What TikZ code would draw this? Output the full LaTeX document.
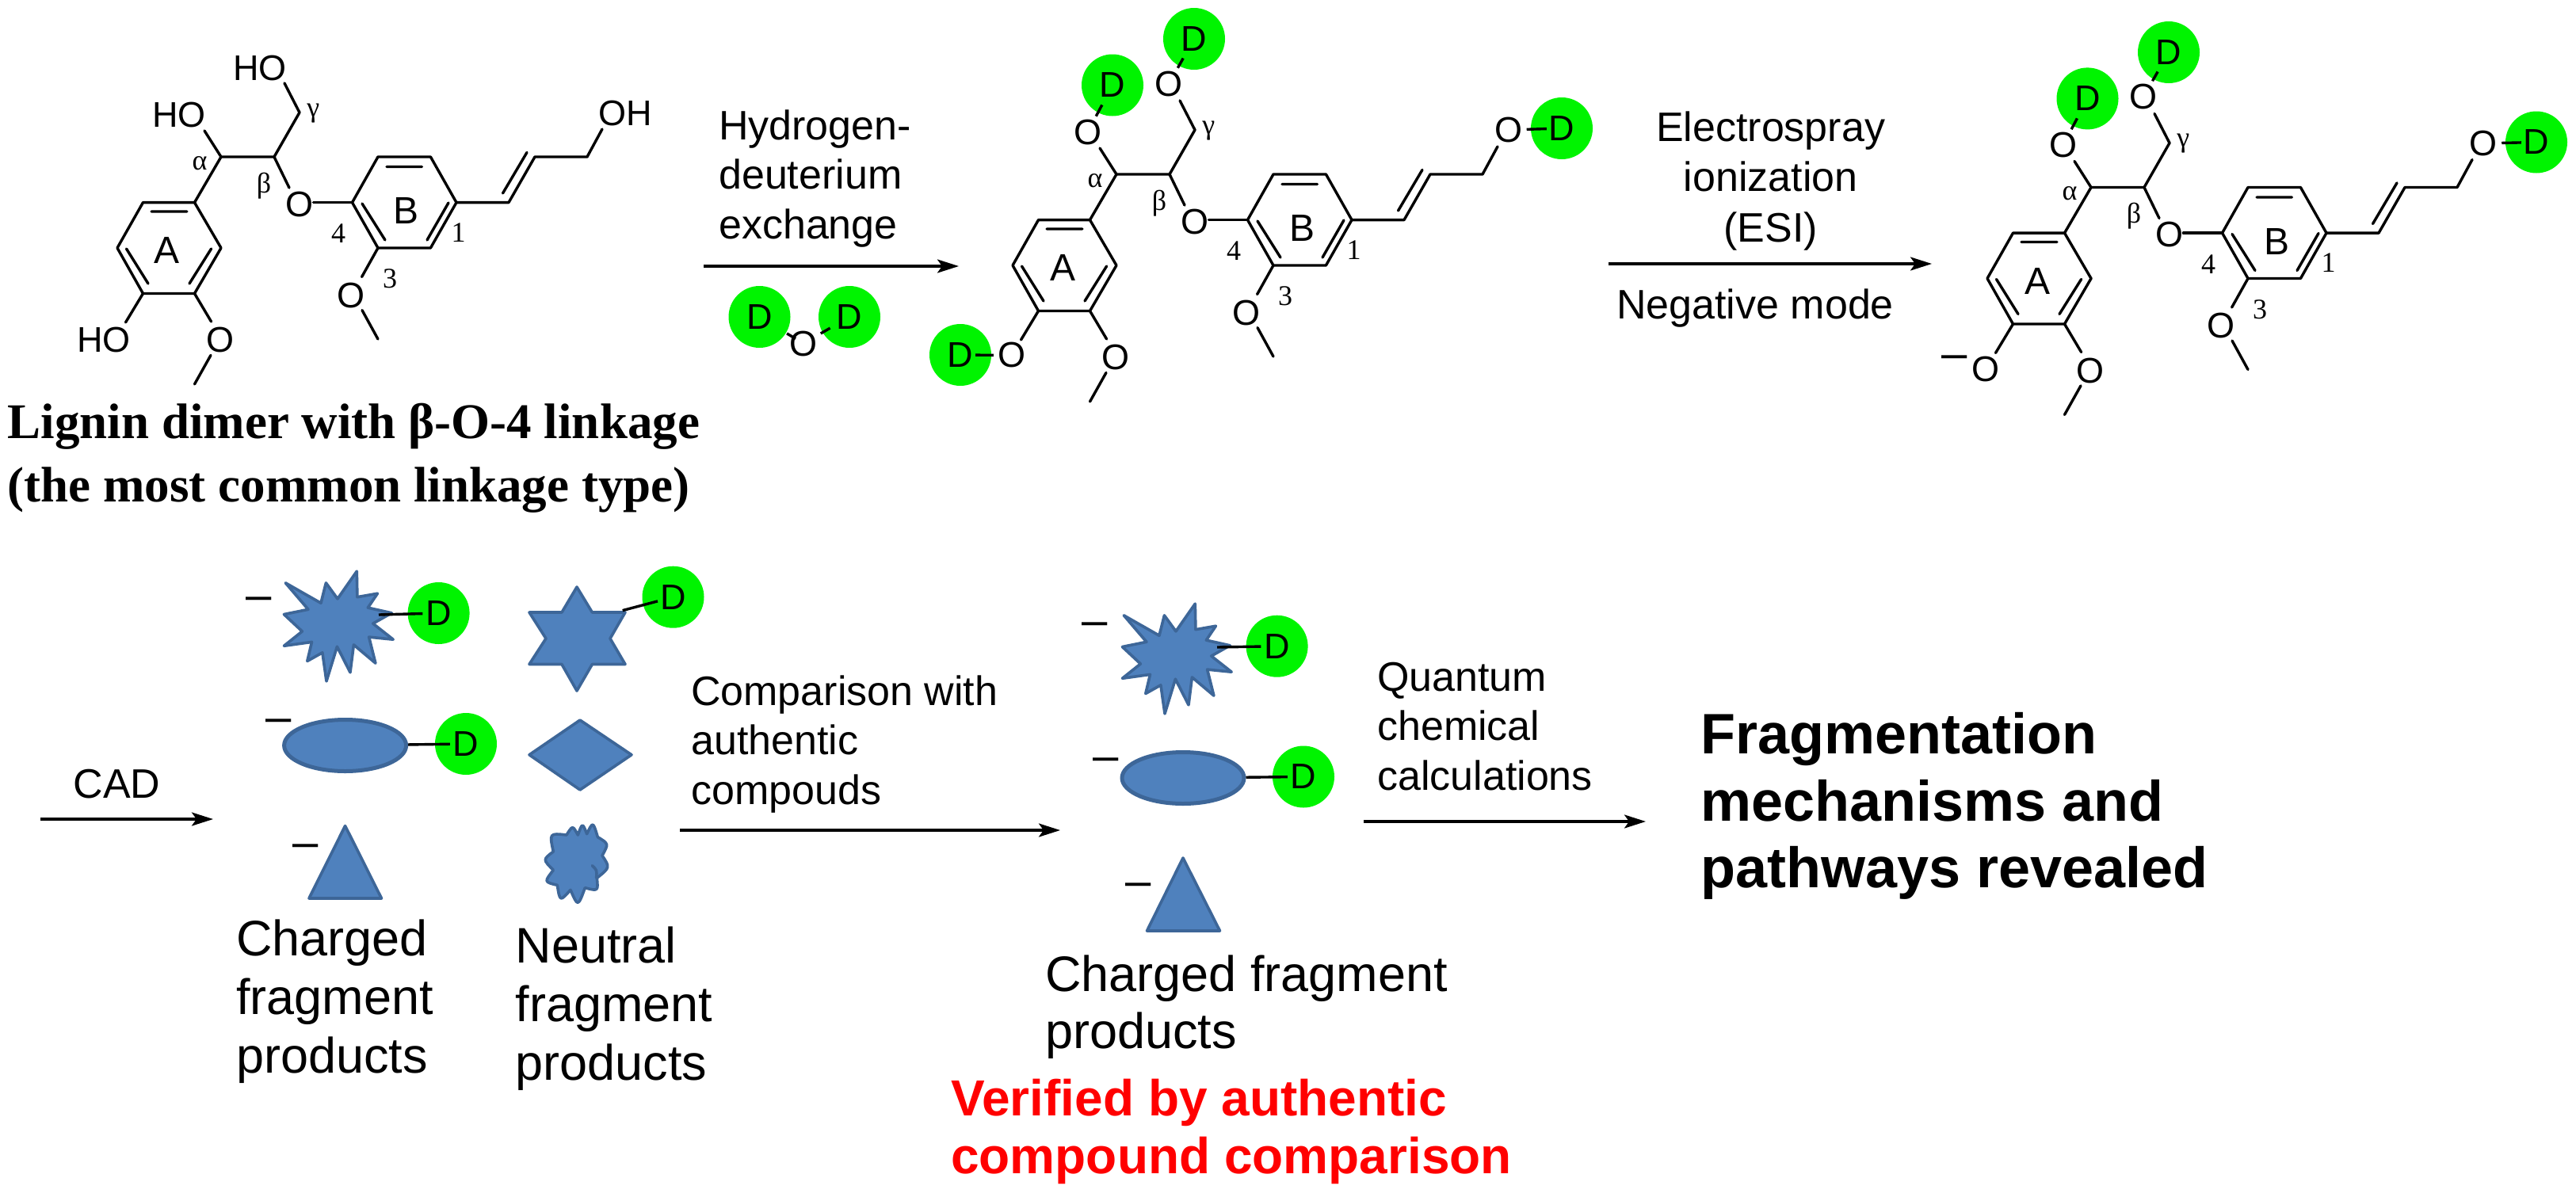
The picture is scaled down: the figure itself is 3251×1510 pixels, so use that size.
\documentclass[tikz,border=0pt]{standalone}
\usepackage{fontspec}
\setmainfont{Liberation Sans}
\newfontfamily\arialf{Liberation Sans}
\newfontfamily\timesf{Liberation Serif}
\usetikzlibrary{arrows.meta,shapes.geometric,calc}
\definecolor{dgreen}{HTML}{00F400}
\definecolor{fragfill}{HTML}{4F81BD}
\definecolor{fragline}{HTML}{3D6698}
\tikzset{
  x=1pt,y=-1pt,
  bond/.style={line width=3.4pt,line join=round,line cap=round},
  atom/.style={font=\arialf\fontsize{45}{45}\selectfont,inner sep=1.5pt},
  ringlbl/.style={font=\arialf\fontsize{48}{48}\selectfont,inner sep=0pt},
  posn/.style={font=\timesf\fontsize{36}{36}\selectfont,inner sep=0pt},
  deut/.style={circle,fill=dgreen,minimum size=78pt,inner sep=0pt,font=\arialf\fontsize{45}{45}\selectfont},
  arr/.style={line width=3.4pt,-{Stealth[length=27pt,width=17pt,inset=6pt]}},
  lbl/.style={font=\arialf\fontsize{52}{62.5}\selectfont,inner sep=0pt,anchor=base west,align=left},
  lblc/.style={font=\arialf\fontsize{52}{63.5}\selectfont,inner sep=0pt,anchor=base,align=center},
  big/.style={font=\arialf\fontsize{63}{73.6}\selectfont,inner sep=0pt,anchor=base west,align=left},
  res/.style={font=\arialf\bfseries\fontsize{72}{84.5}\selectfont,inner sep=0pt,anchor=base west,align=left},
  redt/.style={font=\arialf\bfseries\fontsize{64}{73}\selectfont,text=red,inner sep=0pt,anchor=base west,align=left},
  ttl/.style={font=\timesf\bfseries\fontsize{63}{80}\selectfont,inner sep=0pt,anchor=base west,align=left},
  neg/.style={font=\arialf\fontsize{58}{58}\selectfont,inner sep=0pt,anchor=base},
  frag/.style={fill=fragfill,draw=fragline,line width=3.6pt,line join=round},
  fragell/.style={ellipse,frag,line width=5pt,minimum width=154pt,minimum height=65pt,inner sep=0pt},
  tobond/.style={line width=3.4pt,shorten <=3pt,shorten >=-11pt},
  tobondh/.style={line width=3.4pt,shorten <=4pt,shorten >=-20pt},
  fragbond/.style={line width=3.4pt,shorten >=-19pt},
}
% skeleton of the lignin dimer: #1 prefix, #2/#3 offset
\newcommand{\ligninskel}[3]{%
\begin{scope}[shift={(#2,#3)}]
  \coordinate (#1Ca) at (279,198);
  \coordinate (#1Cb) at (346,198);
  \coordinate (#1Cg) at (378,142);
  \coordinate (#1gE) at (359,105);
  \coordinate (#1aE) at (258,165);
  \coordinate (#1bE) at (365,237);
  \coordinate (#1bF) at (395.4,255.6);
  % ring A
  \coordinate (#1A1) at (245.5,255.6);
  \coordinate (#1A2) at (180.5,255.6);
  \coordinate (#1A3) at (148,313);
  \coordinate (#1A4) at (180.5,370.5);
  \coordinate (#1A5) at (245.5,370.5);
  \coordinate (#1A6) at (279,313);
  \coordinate (#1Aa) at (191,267);\coordinate (#1Ab) at (236,267);
  \coordinate (#1Ac) at (159.5,314);\coordinate (#1Ad) at (187,358);
  \coordinate (#1Ae) at (266.6,314);\coordinate (#1Af) at (239,358);
  % ring B
  \coordinate (#1B1) at (444.5,255.6);
  \coordinate (#1B2) at (477,198);
  \coordinate (#1B3) at (543.4,198);
  \coordinate (#1B4) at (576,255.6);
  \coordinate (#1B5) at (543.4,313);
  \coordinate (#1B6) at (477,313);
  \coordinate (#1Ba) at (488,210.5);\coordinate (#1Bb) at (532.5,210.5);
  \coordinate (#1Bc) at (457,257);\coordinate (#1Bd) at (486,303);
  \coordinate (#1Be) at (566,256);\coordinate (#1Bf) at (539,303);
  % side chain
  \coordinate (#1S1) at (642,255.6);
  \coordinate (#1S2) at (675,198);
  \coordinate (#1S3) at (741,198);
  \coordinate (#1S4) at (760,163);
  \coordinate (#1Sa) at (634.5,244);\coordinate (#1Sb) at (665,192.4);
  % substituents
  \coordinate (#1hE) at (158.5,407);
  \coordinate (#1mE) at (266.6,406);
  \coordinate (#1mF) at (266,448.4);
  \coordinate (#1mG) at (245.5,485);
  \coordinate (#1nE) at (456.6,349.5);
  \coordinate (#1nF) at (457,391.6);
  \coordinate (#1nG) at (477,428);
  % atoms
  \node[atom] (#1bO) at (377.5,258) {O};
  \node[atom] (#1mO) at (278,429.5) {O};
  \node[atom] (#1nO) at (443,372.6) {O};
  \node[ringlbl] (#1LA) at (211,316) {A};
  \node[ringlbl] (#1LB) at (513,266) {B};
  \node[posn] (#1La) at (252,206) {α};
  \node[posn] (#1Lb) at (333,234.5) {β};
  \node[posn] (#1Lg) at (395.4,143) {γ};
  \node[posn] (#1L4) at (427,295) {4};
  \node[posn] (#1L3) at (492,352) {3};
  \node[posn] (#1L1) at (578.5,293.5) {1};
  % bonds
  \draw[bond] (#1gE) -- (#1Cg) -- (#1Cb) -- (#1Ca) -- (#1aE);
  \draw[bond] (#1Ca) -- (#1A1);
  \draw[bond] (#1Cb) -- (#1bE);
  \draw[bond] (#1bF) -- (#1B1);
  \draw[bond] (#1A1) -- (#1A2) -- (#1A3) -- (#1A4) -- (#1A5) -- (#1A6) -- cycle;
  \draw[bond] (#1Aa) -- (#1Ab) (#1Ac) -- (#1Ad) (#1Ae) -- (#1Af);
  \draw[bond] (#1B1) -- (#1B2) -- (#1B3) -- (#1B4) -- (#1B5) -- (#1B6) -- cycle;
  \draw[bond] (#1Ba) -- (#1Bb) (#1Bc) -- (#1Bd) (#1Be) -- (#1Bf);
  \draw[bond] (#1B4) -- (#1S1) -- (#1S2) -- (#1S3) -- (#1S4);
  \draw[bond] (#1Sa) -- (#1Sb);
  \draw[bond] (#1A4) -- (#1hE);
  \draw[bond] (#1A5) -- (#1mE);
  \draw[bond] (#1mF) -- (#1mG);
  \draw[bond] (#1B6) -- (#1nE);
  \draw[bond] (#1nF) -- (#1nG);
\end{scope}}
\newcommand{\burstpath}{(360.3,735.8)--(405,761.3)--(411.4,735.8)--(426,755.9)--(450.3,721.1)--(450.9,753.7)--(476.4,749.2)--(464.3,767.1)--(494.3,773.8)--(470.7,787.1)--(496.2,807.2)--(465.6,804.1)--(473.9,837.1)--(446.4,813.9)--(442,848.8)--(425.4,816.2)--(412,859.9)--(406.9,823.8)--(387.8,834.5)--(393.5,810.4)--(358.4,815.3)--(381.4,797)--(358.4,775.5)--(389,769.3)--cycle}
\begin{document}
\begin{tikzpicture}
\useasboundingbox (0,0) rectangle (3251,1510);
\fill[white] (0,0) rectangle (3251,1510);

% ---------- molecule 1
\ligninskel{a}{0}{0}
\node[atom] (aHOg) at (328,86) {HO};
\node[atom] (aHOa) at (226,145) {HO};
\node[atom] (aHOr) at (131,429) {HO};
\node[atom] (aOHc) at (789.5,143) {OH};
\node[ttl] (title) at (9.5,633.7) {Lignin dimer with β-O-4 linkage\\(the most common linkage type)};

% ---------- arrow 1
\coordinate (a1s) at (888,336); \coordinate (a1e) at (1210,336);
\draw[arr] (a1s) -- (a1e);
\node[lbl] (hdx) at (907,301) {Hydrogen-\\deuterium\\exchange};
% D2O
\node[deut] (dl) at (958.5,400) {D};
\node[deut] (dr) at (1072,400) {D};
\node[atom] (do) at (1014,433.6) {O};
\draw[line width=3.4pt,shorten <=14pt,shorten >=2pt] (dl) -- (do);
\draw[line width=3.4pt,shorten <=3pt,shorten >=-11pt] (do) -- (dr);

% ---------- molecule 2
\ligninskel{b}{1130}{22}
\node[deut] (bD1) at (1404,107.5) {D};
\node[deut] (bD2) at (1507,49) {D};
\node[deut] (bD3) at (1971,162) {D};
\node[deut] (bD4) at (1212,448) {D};
\node[atom] (bO1) at (1372.5,167) {O};
\node[atom] (bO2) at (1475,106) {O};
\node[atom] (bO3) at (1903.5,164) {O};
\node[atom] (bO4) at (1277,448.5) {O};
\draw[tobond] (bO1) -- (bD1);
\draw[tobond] (bO2) -- (bD2);
\draw[tobondh] (bO3) -- (bD3);
\draw[tobondh] (bO4) -- (bD4);

% ---------- arrow 2
\coordinate (a2s) at (2030,333); \coordinate (a2e) at (2438,333);
\draw[arr] (a2s) -- (a2e);
\node[lblc] (esi) at (2234.6,305) {Electrospray\\ionization\\(ESI)};
\node[lbl] (negm) at (2040,402) {Negative mode};

% ---------- molecule 3
\ligninskel{c}{2360}{38.5}
\node[deut] (cD1) at (2634.5,124.4) {D};
\node[deut] (cD2) at (2737,66) {D};
\node[deut] (cD3) at (3201,179.5) {D};
\node[atom] (cO1) at (2603.5,183.5) {O};
\node[atom] (cO2) at (2705,122.5) {O};
\node[atom] (cO3) at (3134,181) {O};
\node[atom] (cO4) at (2506,466) {O};
\node[neg] (cneg) at (2467,465) {–};
\draw[tobond] (cO1) -- (cD1);
\draw[tobond] (cO2) -- (cD2);
\draw[tobondh] (cO3) -- (cD3);

% ---------- CAD arrow
\coordinate (a3s) at (51,1034); \coordinate (a3e) at (269,1034);
\draw[arr] (a3s) -- (a3e);
\node[lbl] (cad) at (92.5,1007) {CAD};

% ---------- charged fragments, first column
\path[frag] \burstpath;
\coordinate (burstE) at (478,776);
\node[deut] (fD1) at (553.6,774) {D};
\draw[fragbond] (burstE) -- (fD1);
\node[neg] (fn1) at (327,770) {–};
\node[fragell] (fE) at (435.6,941) {};
\node[deut] (fD2) at (588,939) {D};
\draw[fragbond] (fE) -- (fD2);
\node[neg] (fn2) at (351.5,924.6) {–};
\path[frag] (435.6,1042.5) -- (481.5,1134) -- (390,1134) -- cycle;
\node[neg] (fn3) at (386,1082.6) {–};
\node[big] (chg) at (298,1354) {Charged\\fragment\\products};

% ---------- neutral fragments
\path[frag] (728,741)--(747.4,773)--(789,773)--(770,806)--(789,838.5)--(747.4,838.5)--(728,872)--(709,838.5)--(668,838.5)--(689,806)--(668,773)--(709,773)--cycle;
\coordinate (starE) at (785.7,770.6);
\node[deut] (fD3) at (849.5,753.7) {D};
\draw[line width=3.4pt,shorten >=-19pt] (starE) -- (fD3);
\path[frag] (732,909)--(797,952.8)--(732,997)--(668,952.8)--cycle;
\begin{scope}[shift={(670,1030)},x=.3333pt,y=-.3333pt]
\path[frag] (135,72) .. controls (158,35) .. (178,72) .. controls (195,25) .. (212,68)
  .. controls (235,20) .. (253,80) .. controls (295,105) .. (270,150)
  .. controls (300,195) .. (250,235) .. controls (255,285) .. (205,272)
  .. controls (178,345) .. (150,280) .. controls (110,325) .. (100,262)
  .. controls (50,250) .. (85,205) .. controls (45,165) .. (85,135)
  .. controls (70,65) .. (135,72) -- cycle;
\draw[frag,fill=none,line cap=round] (232,188) .. controls (250,205) .. (248,235);
\end{scope}
\node[big] (neu) at (650.5,1363) {Neutral\\fragment\\products};

% ---------- comparison arrow
\coordinate (a4s) at (858.4,1048); \coordinate (a4e) at (1338,1048);
\draw[arr] (a4s) -- (a4e);
\node[lbl] (cmp) at (872,1015) {Comparison with\\authentic\\compouds};

% ---------- verified fragments
\begin{scope}[shift={(1058,41)}]
\path[frag] \burstpath;
\coordinate (burst2E) at (478,776);
\node[deut] (gD1) at (553.6,774.7) {D};
\draw[fragbond] (burst2E) -- (gD1);
\node[neg] (gn1) at (324,761) {–};
\node[fragell] (gE) at (435,941) {};
\node[deut] (gD2) at (587,939.5) {D};
\draw[fragbond] (gE) -- (gD2);
\node[neg] (gn2) at (337.5,932) {–};
\path[frag] (435,1042) -- (481.5,1134) -- (389.5,1134) -- cycle;
\node[neg] (gn3) at (379,1090) {–};
\end{scope}
\node[big,font=\arialf\fontsize{63}{72}\selectfont] (chg2) at (1319,1323.5) {Charged fragment\\products};
\node[redt] (ver) at (1200,1481.7) {Verified by authentic\\compound comparison};

% ---------- quantum arrow
\coordinate (a5s) at (1721,1037); \coordinate (a5e) at (2077,1037);
\draw[arr] (a5s) -- (a5e);
\node[lbl] (qcc) at (1738,997) {Quantum\\chemical\\calculations};

\node[res] (mech) at (2146.5,1120.7) {Fragmentation\\mechanisms and\\pathways revealed};
\end{tikzpicture}
\end{document}
